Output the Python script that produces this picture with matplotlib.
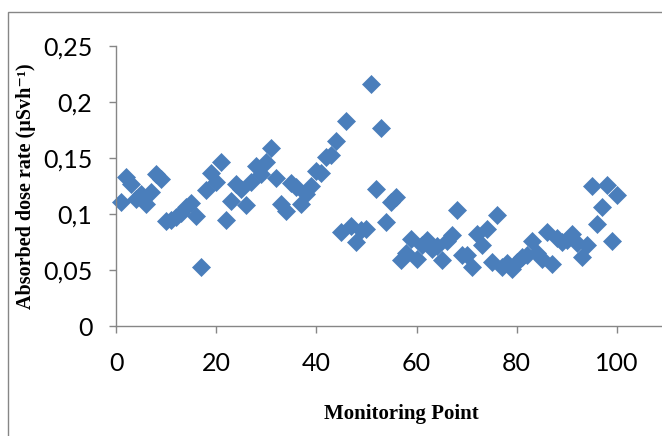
import numpy as np
import matplotlib.pyplot as plt
from matplotlib.patches import Rectangle

# monitoring points 1..100 and absorbed dose rate (uSv/h)
pontos = np.arange(1, 101)
dose = [0.111, 0.133, 0.127, 0.113, 0.118, 0.109, 0.120, 0.136, 0.131, 0.094,
        0.095, 0.097, 0.101, 0.106, 0.110, 0.098, 0.053, 0.121, 0.137, 0.129,
        0.146, 0.095, 0.112, 0.127, 0.122, 0.108, 0.129, 0.143, 0.136, 0.146,
        0.159, 0.132, 0.109, 0.103, 0.128, 0.124, 0.109, 0.118, 0.125, 0.138,
        0.137, 0.151, 0.153, 0.165, 0.084, 0.183, 0.089, 0.075, 0.086, 0.087,
        0.216, 0.122, 0.177, 0.093, 0.111, 0.115, 0.059, 0.065, 0.078, 0.060,
        0.072, 0.077, 0.069, 0.071, 0.059, 0.076, 0.081, 0.104, 0.063, 0.063,
        0.053, 0.082, 0.072, 0.087, 0.057, 0.099, 0.053, 0.056, 0.051, 0.057,
        0.062, 0.063, 0.076, 0.065, 0.060, 0.084, 0.055, 0.079, 0.075, 0.077,
        0.082, 0.074, 0.062, 0.072, 0.125, 0.091, 0.106, 0.126, 0.076, 0.117]
xticks = [0, 20, 40, 60, 80, 100]
yticks = [0, 0.05, 0.1, 0.15, 0.2, 0.25]
ylabels = ['0', '0,05', '0,1', '0,15', '0,2', '0,25']

cor = '#4A7EBB'
cinza = '#868686'

fig = plt.figure(figsize=(6.62, 4.36), dpi=100)
ax = fig.add_axes([116/662, 110/436, 601/662, 280/436])

ax.plot(pontos, dose, linestyle='none', marker='D', markersize=9.2,
        color=cor, markeredgecolor=cor, markeredgewidth=0.5, clip_on=False)

ax.set_xlim(0, 120)
ax.set_ylim(0, 0.25)
ax.set_xticks(xticks)
ax.set_xticklabels([str(t) for t in xticks])
ax.set_yticks(yticks)
ax.set_yticklabels(ylabels)

for s in ['top', 'right']:
    ax.spines[s].set_visible(False)
for s in ['left', 'bottom']:
    ax.spines[s].set_color(cinza)
    ax.spines[s].set_linewidth(1.0)

ax.tick_params(axis='both', direction='out', color=cinza, width=1.0, length=5,
               labelsize=18, labelcolor='black')
ax.tick_params(axis='y', pad=12)
ax.tick_params(axis='x', pad=14)
for lab in ax.get_xticklabels() + ax.get_yticklabels():
    lab.set_fontfamily('Lato')

fig.text(26/662, 0.573, 'Absorbed dose rate (µSvh⁻¹)', rotation=90,
         ha='center', va='center', fontsize=14.5, fontweight='bold',
         family=['Liberation Serif', 'DejaVu Serif'])
fig.text(401/662, 0.05, 'Monitoring Point', ha='center', va='center',
         fontsize=15, fontweight='bold', family=['Liberation Serif', 'DejaVu Serif'])

# chart frame (cropped on the right and bottom)
fig.patches.append(Rectangle((7.5/662, -0.1), 1.2, 0.1 + 1 - 12/436,
                             transform=fig.transFigure, fill=False,
                             edgecolor=cinza, linewidth=1.0))

fig.savefig('out.png', dpi=100)
